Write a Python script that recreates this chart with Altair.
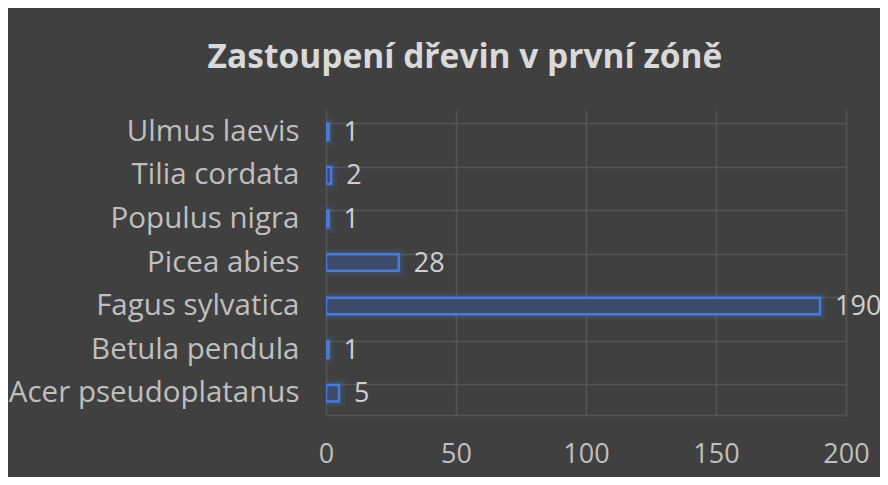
import altair as alt
import pandas as pd

species = ["Ulmus laevis", "Tilia cordata", "Populus nigra", "Picea abies",
           "Fagus sylvatica", "Betula pendula", "Acer pseudoplatanus"]
counts = [1, 2, 1, 28, 190, 1, 5]
x_ticks = [0, 50, 100, 150, 200]

df = pd.DataFrame({"species": species, "count": counts})

BG = "#404040"
GRID = "#555555"
TXT = "#bfbfbf"
FONT = "Open Sans"
FS = 27

y_enc = alt.Y("species:N", sort=species, title=None,
              scale=alt.Scale(paddingInner=0.62, paddingOuter=0.31),
              axis=alt.Axis(labelFontSize=29.5, labelColor=TXT, labelFont=FONT,
                            labelPadding=27, labelLimit=400, ticks=False,
                            domain=False, grid=True, gridColor=GRID,
                            gridWidth=1.5, bandPosition=0))
x_enc = alt.X("count:Q", title=None,
              scale=alt.Scale(domain=[0, 200], nice=False),
              axis=alt.Axis(values=x_ticks, labelFontSize=FS, labelColor=TXT,
                            labelFont=FONT, labelPadding=26, labelFlush=False,
                            ticks=False, domain=True, domainColor=GRID,
                            domainWidth=1.5, grid=True, gridColor=GRID,
                            gridWidth=1.5))

base = alt.Chart(df).encode(y=y_enc, x=x_enc)

glow1 = base.mark_bar(fill="#3a4e78", fillOpacity=0.0, stroke="#3f6fc8",
                      strokeWidth=12, strokeOpacity=0.10, clip=True)
glow2 = base.mark_bar(fill="#3a4e78", fillOpacity=0.0, stroke="#3f6fc8",
                      strokeWidth=7, strokeOpacity=0.18, clip=True)
bars = base.mark_bar(fill="#3c4b6a", stroke="#4a7bd4", strokeWidth=2.5,
                     clip=True)
labels = base.mark_text(align="left", baseline="middle", dx=15, dy=1,
                        fontSize=FS, font=FONT, color="#cfcfcf").encode(
    text="count:Q")

chart = alt.layer(glow1, glow2, bars, labels).properties(
    width=520, height=305,
    background=BG,
    padding={"left": 318, "top": 102, "right": 34, "bottom": 62},
    autosize=alt.AutoSizeParams(type="none"),
    title=alt.Title("Zastoupení dřevin v první zóně", fontSize=33.5,
                    font=FONT, fontWeight="bold", color="#d9d9d9",
                    anchor="middle", dx=-121, offset=35),
).configure_view(stroke=None)

chart.save("out.html", embed_options={"renderer": "svg", "actions": False})
